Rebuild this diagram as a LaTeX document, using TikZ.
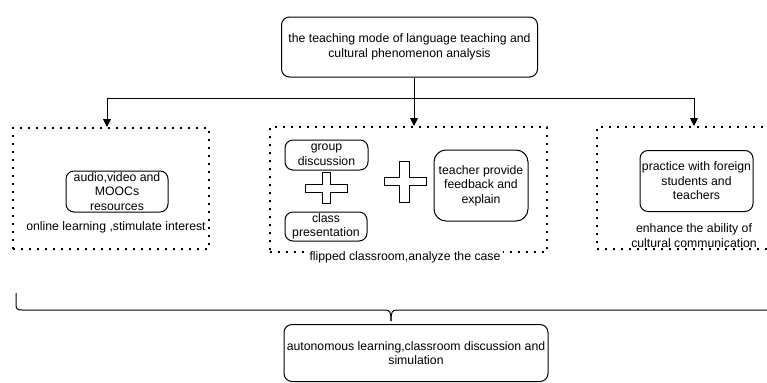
\documentclass[tikz,border=0pt]{standalone}
\usepackage{fontspec}
\setmainfont{Liberation Sans}
\usetikzlibrary{arrows.meta}
\begin{document}
\begin{tikzpicture}[x=0.75pt,y=-0.75pt,
  every node/.style={font=\fontsize{9.2}{10.9}\selectfont, align=center, inner sep=0pt},
  sz/.style 2 args={minimum width=#1*0.75pt, minimum height=#2*0.75pt},
  rbox/.style={draw, rounded corners=6pt, line width=0.75pt},
  dotbox/.style={draw, line width=1.5pt, dash pattern=on 1.5pt off 4.5pt},
  link/.style={line width=0.75pt},
  arrow/.style={link, -{Triangle[length=6pt,width=6pt]}},
  plussign/.style={draw, line width=0.75pt, fill=white},
  lbl/.style={fill=white, inner sep=2pt}]
\useasboundingbox (0,0) rectangle (767,382);
\clip (0,0) rectangle (767,382);

% root
\node[rbox, sz={256}{60}] (top) at (409.5,47)
  {the teaching mode of language teaching and\\cultural phenomenon analysis};

% three dotted groups
\node[dotbox, sz={196}{121}] (L) at (111,188.5) {};
\node[dotbox, sz={277}{125}] (M) at (408.5,189.5) {};
\node[dotbox, sz={190}{122}] (R) at (692,188) {};

% left group
\node[rbox, sz={102}{41}] (A) at (117,191.5) {audio,video and\\MOOCs\\resources};
\node (Lt) at (116,227) {online learning ,stimulate interest};

% middle group
\node[rbox, sz={83}{30}] (G) at (326.5,155) {group\\discussion};
\node[rbox, sz={82}{29}] (C) at (326,226.5) {class\\presentation};
\node[rbox, rounded corners=9pt, sz={94}{71}] (T) at (481,185.5)
  {teacher provide\\feedback and\\explain};
\node[lbl] (Mt) at (405,257) {flipped classroom,analyze the case};

% plus signs
\draw[plussign] (322,172.5) -- (330,172.5) -- (330,184) -- (347,184) -- (347,192)
  -- (330,192) -- (330,203.5) -- (322,203.5) -- (322,192) -- (305,192)
  -- (305,184) -- (322,184) -- cycle;
\draw[plussign] (399,161) -- (409,161) -- (409,177) -- (426,177) -- (426,185)
  -- (409,185) -- (409,202) -- (399,202) -- (399,185) -- (384,185)
  -- (384,177) -- (399,177) -- cycle;

% right group
\node[rbox, sz={113}{61}] (P) at (696.5,181) {practice with foreign\\students and\\teachers};
\node (Rt) at (694,235.5) {enhance the ability of\\cultural communication};

% result
\node[rbox, sz={264}{57}] (B) at (416,353) {autonomous learning,classroom discussion and\\simulation};

% tree connectors
\coordinate (hub) at (414,98);
\coordinate (bl) at (107,98);
\coordinate (br) at (694,98);
\draw[link] (top.south -| hub) -- (hub);
\draw[link] (bl) -- (br);
\draw[arrow] (bl) -- (bl |- L.north);
\draw[arrow] (hub) -- (hub |- M.north);
\draw[arrow] (br) -- (br |- R.north);

% brace gathering the groups
\coordinate (tip) at (391,321);
\draw[link] (16,293) -- (16,304) .. controls (16,309) and (17,310) .. (22,310)
  -- (385,310) .. controls (390,310) and (391,312) .. (tip);
\draw[link] (tip) .. controls (391,312) and (392,310) .. (397,310) -- (775,310);
\end{tikzpicture}
\end{document}
